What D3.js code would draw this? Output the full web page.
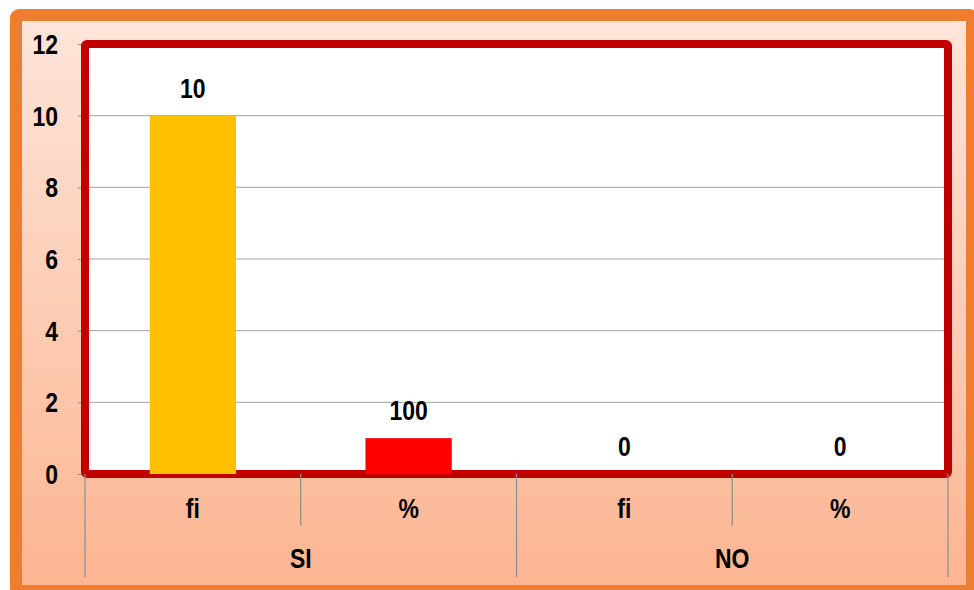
<!DOCTYPE html>
<html>
<head>
<meta charset="utf-8">
<script src="https://cdn.jsdelivr.net/npm/d3@7"></script>
<style>
  body { margin: 0; background: #fff; }
  text { font-family: "Liberation Sans", Arial, sans-serif; font-weight: bold; fill: #000; }
</style>
</head>
<body>
<script>
var groups = ["SI", "NO"];
var subCats = ["fi", "%", "fi", "%"];
var catGroup = ["SI", "SI", "NO", "NO"];
var values = [10, 1, 0, 0];
var valueLabels = ["10", "100", "0", "0"];
var barColors = ["#FFC000", "#FF0000", "#FFC000", "#FF0000"];
var yTicks = [0, 2, 4, 6, 8, 10, 12];

var w = 974, h = 590;
var stretch = "scale(1,1.2)";
var fontSize = "23px";

var svg = d3.select("body").append("svg")
    .attr("width", w)
    .attr("height", h);

var defs = svg.append("defs");
var grad = defs.append("linearGradient")
    .attr("id", "bg")
    .attr("x1", 0).attr("y1", 0).attr("x2", 0).attr("y2", 1);
grad.append("stop").attr("offset", "0%").attr("stop-color", "#FEE5DA");
grad.append("stop").attr("offset", "100%").attr("stop-color", "#FCB591");

// outer frame
svg.append("rect")
    .attr("x", 16).attr("y", 15)
    .attr("width", 956).attr("height", 576)
    .attr("rx", 3)
    .attr("fill", "url(#bg)")
    .attr("stroke", "#ED7D31")
    .attr("stroke-width", 12);

var x0 = 85, x1 = 948, yTop = 44, yBot = 474;

var x = d3.scaleBand()
    .domain(d3.range(subCats.length))
    .range([x0, x1])
    .paddingInner(0.6)
    .paddingOuter(0.3);

var xEdge = d3.scaleLinear().domain([0, subCats.length]).range([x0, x1]);

var y = d3.scaleLinear().domain([0, 12]).range([yBot, yTop]);

// plot area
svg.append("rect")
    .attr("x", x0).attr("y", yTop)
    .attr("width", x1 - x0).attr("height", yBot - yTop)
    .attr("fill", "#fff");

// gridlines
svg.append("g")
    .selectAll("line")
    .data(yTicks.filter(function(d) { return d > 0 && d < 12; }))
    .enter().append("line")
    .attr("x1", x0).attr("x2", x1)
    .attr("y1", function(d) { return y(d); })
    .attr("y2", function(d) { return y(d); })
    .attr("stroke", "#A0A0A0")
    .attr("stroke-width", 1);

// y axis
var yAxis = d3.axisLeft(y).tickValues(yTicks).tickSize(7).tickPadding(20);
var ya = svg.append("g")
    .attr("transform", "translate(" + x0 + ",0)")
    .call(yAxis);
ya.select(".domain").remove();
ya.selectAll(".tick line").attr("stroke", "#8C8C8C");
ya.selectAll(".tick text")
    .attr("dy", null)
    .attr("y", 8)
    .attr("transform", stretch)
    .style("font-size", fontSize)
    .style("font-weight", "bold")
    .style("font-family", "'Liberation Sans', Arial, sans-serif")
    .attr("fill", "#000");

// plot border
svg.append("rect")
    .attr("x", x0).attr("y", yTop)
    .attr("width", x1 - x0).attr("height", yBot - yTop)
    .attr("rx", 2)
    .attr("fill", "none")
    .attr("stroke", "#C00000")
    .attr("stroke-width", 8);

// bars
svg.append("g")
    .selectAll("rect")
    .data(values)
    .enter().append("rect")
    .attr("x", function(d, i) { return x(i); })
    .attr("width", x.bandwidth())
    .attr("y", function(d) { return y(d); })
    .attr("height", function(d) { return yBot - y(d); })
    .attr("fill", function(d, i) { return barColors[i]; });

// value labels
svg.append("g")
    .selectAll("text")
    .data(values)
    .enter().append("text")
    .attr("transform", function(d, i) {
      return "translate(" + (x(i) + x.bandwidth() / 2) + "," + (y(d) - 18) + ")" + stretch;
    })
    .attr("text-anchor", "middle")
    .style("font-size", fontSize)
    .text(function(d, i) { return valueLabels[i]; });

// category separators
svg.append("g")
    .selectAll("line")
    .data(d3.range(subCats.length + 1))
    .enter().append("line")
    .attr("x1", function(d) { return xEdge(d); })
    .attr("x2", function(d) { return xEdge(d); })
    .attr("y1", yBot)
    .attr("y2", function(d) { return d % 2 === 0 ? 577 : 526; })
    .attr("stroke", "#8C8C8C")
    .attr("stroke-width", 1.2);

// sub category labels
svg.append("g")
    .selectAll("text")
    .data(subCats)
    .enter().append("text")
    .attr("transform", function(d, i) {
      return "translate(" + xEdge(i + 0.5) + ",518)" + stretch;
    })
    .attr("text-anchor", "middle")
    .style("font-size", fontSize)
    .text(function(d) { return d; });

// group labels
svg.append("g")
    .selectAll("text")
    .data(groups)
    .enter().append("text")
    .attr("transform", function(d, i) {
      return "translate(" + xEdge(i * 2 + 1) + ",568)" + stretch;
    })
    .attr("text-anchor", "middle")
    .style("font-size", fontSize)
    .text(function(d) { return d; });
</script>
</body>
</html>
